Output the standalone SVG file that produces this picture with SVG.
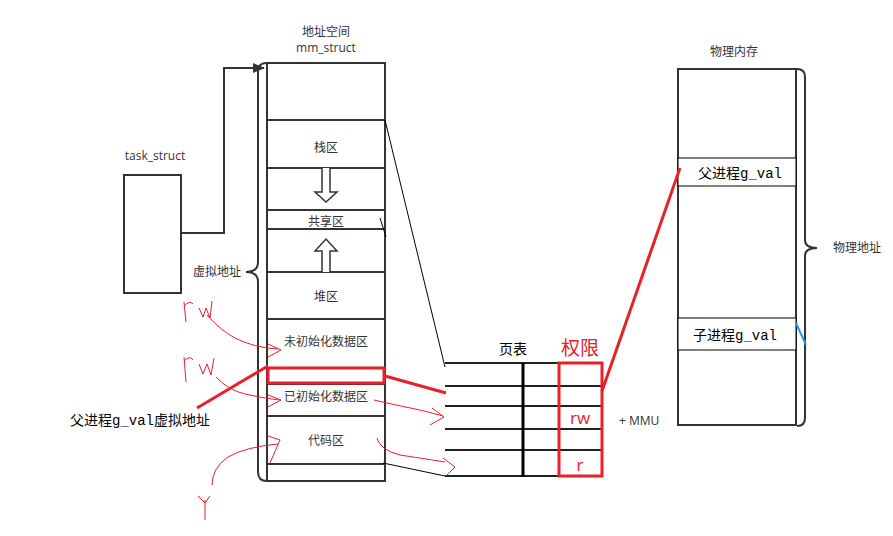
<svg xmlns="http://www.w3.org/2000/svg" width="893" height="536" viewBox="0 0 893 536">
<defs>
<style>
.box{fill:#fff;stroke:#333;stroke-width:2}
.ln{stroke:#333;stroke-width:2;fill:none}
.thin{stroke:#000;stroke-width:1;fill:none}
.lbl{font-family:"Open Sans","Noto Sans CJK SC",sans-serif;font-size:12px;fill:#333;text-anchor:middle}
.mono{font-family:"Liberation Mono","Noto Sans CJK SC",monospace;font-size:14px;fill:#000}
.red{stroke:#e8202a;fill:none}
.redt{font-family:"Open Sans","Noto Sans CJK SC",sans-serif;fill:#e8202a;text-anchor:middle}
</style>
<marker id="ah" markerWidth="12" markerHeight="10" refX="11" refY="5" orient="auto" markerUnits="userSpaceOnUse">
<path d="M0,0 L12,5 L0,10 Z" fill="#333"/>
</marker>
</defs>
<rect width="893" height="536" fill="#fff"/>

<g id="task_struct">
<text class="lbl" x="155" y="160">task_struct</text>
<rect class="box" x="124" y="175" width="57" height="118"/>
</g>

<g id="mm_struct">
<text class="lbl" x="326" y="36">地址空间</text>
<text class="lbl" x="326" y="52">mm_struct</text>
<rect class="box" x="267" y="63" width="118" height="418"/>
<path class="ln" d="M267,120H385M267,168H385M267,210H385M267,229H385M267,272H385M267,319H385M267,384H385M267,416H385M267,464H385"/>
<text class="lbl" x="326" y="152">栈区</text>
<text class="lbl" x="326" y="226">共享区</text>
<text class="lbl" x="326" y="301">堆区</text>
<text class="lbl" x="326" y="346">未初始化数据区</text>
<text class="lbl" x="326" y="401">已初始化数据区</text>
<text class="lbl" x="326" y="445">代码区</text>
<path d="M322,168V192H315L326,202L337,192H330V168" fill="#fff" stroke="#333" stroke-width="1.5"/>
<path d="M322,272V251H315L326,239L337,251H330V272" fill="#fff" stroke="#333" stroke-width="1.5"/>
<rect x="268" y="368" width="116" height="15" fill="none" stroke="#e8202a" stroke-width="3"/>
</g>

<g id="virtual_brace">
<path class="ln" d="M266,63Q258,63 258,72V262Q258,272 246,272Q258,272 258,282V472Q258,481 267,481"/>
<text class="lbl" x="217" y="276">虚拟地址</text>
</g>

<g id="page_table">
<text x="513" y="354" font-family="'Noto Sans CJK SC',sans-serif" font-size="14" fill="#000" text-anchor="middle">页表</text>
<path stroke="#222" stroke-width="2" fill="none" d="M445,363H602M445,386H602M445,406H602M445,429H602M445,450H602M445,476H602"/>
<path stroke="#000" stroke-width="3" d="M523,363V477"/>
<rect x="559" y="363" width="43" height="113" fill="none" stroke="#e8202a" stroke-width="3"/>
<text class="redt" x="580" y="355" font-size="19">权限</text>
<text class="redt" x="580" y="424" font-size="17">rw</text>
<text class="redt" x="580" y="471" font-size="17">r</text>
<text x="619" y="425" font-family="'Open Sans',sans-serif" font-size="12" fill="#333">+ MMU</text>
</g>

<g id="physical_memory">
<text class="lbl" x="734" y="56">物理内存</text>
<rect class="box" x="678" y="69" width="118" height="356"/>
<rect x="678" y="158" width="118" height="28" fill="#fff" stroke="#000" stroke-width="1"/>
<text class="mono" x="698" y="178">父进程g_val</text>
<rect x="678" y="318" width="118" height="32" fill="#fff" stroke="#000" stroke-width="1"/>
<text class="mono" x="693" y="340">子进程g_val</text>
<path class="ln" d="M797,69Q805,69 805,77V240Q805,248 817,248Q805,248 805,256V418Q805,426 797,426"/>
<text class="lbl" x="857" y="252">物理地址</text>
</g>

<g id="parent_label">
<text class="mono" x="70" y="425">父进程g_val虚拟地址</text>
</g>

<g id="connectors">
<path class="ln" d="M181,233H224V68H264" marker-end="url(#ah)"/>
<path class="thin" d="M385,120L445,367"/>
<path class="thin" d="M383,463L445,476"/>
<path class="thin" d="M380,218L386,237"/>
<path class="red" stroke-width="3" d="M197,408L268,366"/>
<path class="red" stroke-width="3" d="M385,376L446,393"/>
<path class="red" stroke-width="3" d="M602,391L680,168"/>
<path stroke="#1ba1e2" stroke-width="2" d="M796,323L806,345"/>
<g class="red" stroke-width="1">
<path d="M184,302L186,322M184,306Q190,300 193,304M199,308L203,317L206,308L210,318L212,301"/>
<path d="M207,315Q220,330 235,338Q255,348 278,349"/>
<path d="M268,344L281,350L268,357"/>
<path d="M184,357L186,382M184,361Q190,355 193,360M199,364L203,374L207,364L211,375L214,358"/>
<path d="M216,377Q228,390 245,394Q262,398 279,400"/>
<path d="M268,395L281,400L268,407"/>
<path d="M212,485Q212,468 228,457Q245,447 278,444"/>
<path d="M268,436L280,440L270,463"/>
<path d="M205,500V520M198,496L205,503L210,496"/>
<path d="M374,400Q395,405 420,410Q432,413 443,416"/>
<path d="M432,408L444,417L430,425"/>
<path d="M377,438Q380,450 400,455Q420,458 445,462"/>
<path d="M443,458L455,467L446,476"/>
</g>
</g>
</svg>
